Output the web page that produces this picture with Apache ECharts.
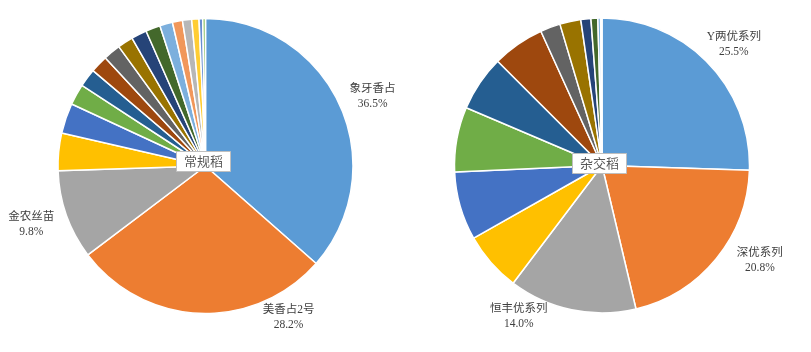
<!DOCTYPE html>
<html>
<head>
<meta charset="utf-8">
<script src="https://cdn.jsdelivr.net/npm/echarts@6/dist/echarts.min.js"></script>
<style>html,body{margin:0;padding:0;background:#fff;}#c{width:811px;height:352px;}</style>
</head>
<body>
<div id="c"></div>
<script>
// 常规稻 (conventional rice) variety shares, %
const convNames = ['象牙香占','美香占2号','金农丝苗','品种4','品种5','品种6','品种7','品种8','品种9','品种10','品种11','品种12','品种13','品种14','品种15','品种16','品种17','品种18'];
const convValues = [36.5, 28.2, 9.8, 4.1, 3.3, 2.3, 2.0, 1.9, 1.9, 1.7, 1.7, 1.6, 1.4, 1.1, 1.0, 0.8, 0.4, 0.3];
// 杂交稻 (hybrid rice) series shares, %
const hybNames = ['Y两优系列','深优系列','恒丰优系列','系列4','系列5','系列6','系列7','系列8','系列9','系列10','系列11','系列12','系列13','系列14'];
const hybValues = [25.5, 20.8, 14.0, 6.5, 7.5, 7.1, 6.1, 5.7, 2.2, 2.3, 1.1, 0.75, 0.3, 0.15];
const groupTitles = ['常规稻','杂交稻'];

const palette = ['#5B9BD5','#ED7D31','#A5A5A5','#FFC000','#4472C4','#70AD47','#255E91','#9E480E','#636363','#997300','#264478','#43682B','#7CAFDD','#F1975A','#B7B7B7','#FFCD33','#698ED0','#8CC168'];
const labelFont = "'Liberation Serif','Noto Sans CJK SC',serif";
const shownLabels = 3;

function buildData(names, values) {
  return names.map((n, i) => ({
    name: n, value: values[i],
    label: { show: i < shownLabels }
  }));
}
const convNudge = [[-9,-2.5],[120,-10.5],[7,4.5]];
const hybNudge = [[-17,-7.5],[4,-7.5],[-16,-8.5]];

function makeSeries(names, values, center, nudge) {
  return {
    type: 'pie',
    center: center,
    radius: 147.5,
    startAngle: 90,
    clockwise: true,
    avoidLabelOverlap: false,
    percentPrecision: 1,
    data: buildData(names, values),
    itemStyle: { borderColor: '#fff', borderWidth: 1.5 },
    label: {
      show: false,
      position: 'outside',
      formatter: function (p) { return p.name + '\n' + Number(p.percent).toFixed(1) + '%'; },
      fontFamily: labelFont,
      fontSize: 11.5,
      lineHeight: 15,
      color: '#404040'
    },
    labelLine: { show: false, length: 15, length2: 0 },
    labelLayout: function (p) {
      const n = nudge[p.dataIndex] || [0,0];
      return {
        x: p.labelRect.x + p.labelRect.width / 2 + n[0],
        y: p.labelRect.y + p.labelRect.height / 2 + n[1],
        align: 'center',
        verticalAlign: 'middle'
      };
    },
    emphasis: { disabled: true }
  };
}

const chart = echarts.init(document.getElementById('c'), null, { renderer: 'canvas' });
chart.setOption({
  animation: false,
  color: palette,
  title: [
    { text: groupTitles[0], left: 176, top: 151, padding: [4, 8], backgroundColor: '#fff', borderColor: '#bfbfbf', borderWidth: 1,
      textStyle: { fontFamily: "'Noto Sans CJK SC',sans-serif", fontSize: 13, fontWeight: 'normal', color: '#595959' } },
    { text: groupTitles[1], left: 572, top: 153, padding: [4, 8], backgroundColor: '#fff', borderColor: '#bfbfbf', borderWidth: 1,
      textStyle: { fontFamily: "'Noto Sans CJK SC',sans-serif", fontSize: 13, fontWeight: 'normal', color: '#595959' } }
  ],
  series: [
    makeSeries(convNames, convValues, [205.5, 166], convNudge),
    makeSeries(hybNames, hybValues, [602, 165.5], hybNudge)
  ]
});
</script>
</body>
</html>
